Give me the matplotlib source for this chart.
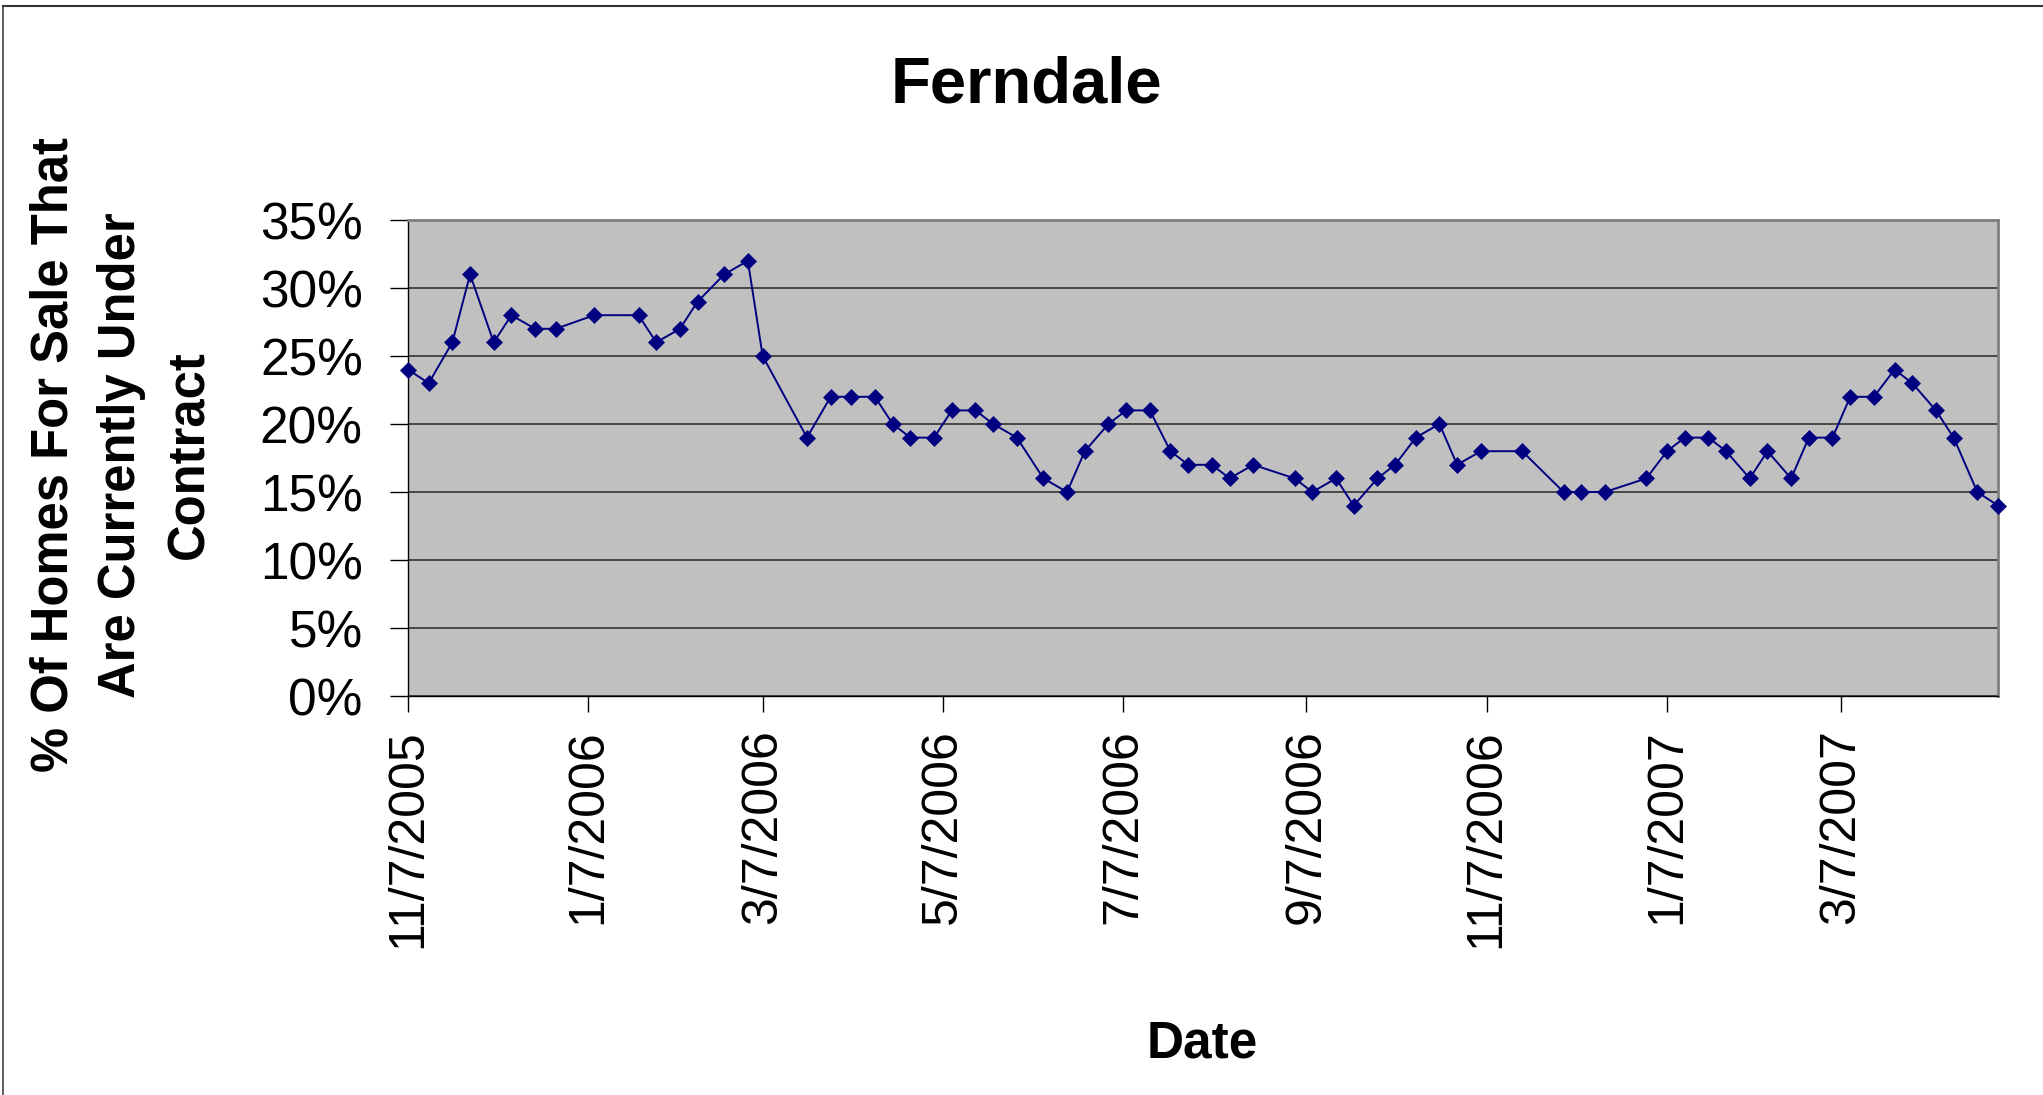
import pandas as pd
import matplotlib
matplotlib.use('Agg')
import matplotlib.pyplot as plt
from matplotlib.lines import Line2D

plt.rcParams['font.family'] = ['Liberation Sans', 'DejaVu Sans']

# data
dates = ['11/7/2005', '11/14/2005', '11/22/2005', '11/28/2005', '12/6/2005', '12/12/2005',
         '12/20/2005', '12/27/2005', '1/9/2006', '1/24/2006', '1/30/2006', '2/7/2006',
         '2/13/2006', '2/22/2006', '3/2/2006', '3/7/2006', '3/22/2006', '3/30/2006',
         '4/6/2006', '4/14/2006', '4/20/2006', '4/26/2006', '5/4/2006', '5/10/2006',
         '5/18/2006', '5/24/2006', '6/1/2006', '6/10/2006', '6/18/2006', '6/24/2006',
         '7/2/2006', '7/8/2006', '7/16/2006', '7/23/2006', '7/29/2006', '8/6/2006',
         '8/12/2006', '8/20/2006', '9/3/2006', '9/9/2006', '9/17/2006', '9/23/2006',
         '10/1/2006', '10/7/2006', '10/14/2006', '10/22/2006', '10/28/2006', '11/5/2006',
         '11/19/2006', '12/3/2006', '12/9/2006', '12/17/2006', '12/31/2006', '1/7/2007',
         '1/13/2007', '1/21/2007', '1/27/2007', '2/4/2007', '2/10/2007', '2/18/2007',
         '2/24/2007', '3/4/2007', '3/10/2007', '3/18/2007', '3/25/2007', '3/31/2007',
         '4/8/2007', '4/14/2007', '4/22/2007', '4/29/2007']
pct_under_contract = [24, 23, 26, 31, 26, 28, 27, 27, 28, 28,
                      26, 27, 29, 31, 32, 25, 19, 22, 22, 22,
                      20, 19, 19, 21, 21, 20, 19, 16, 15, 18,
                      20, 21, 21, 18, 17, 17, 16, 17, 16, 15,
                      16, 14, 16, 17, 19, 20, 17, 18, 18, 15,
                      15, 15, 16, 18, 19, 19, 18, 16, 18, 16,
                      19, 19, 22, 22, 24, 23, 21, 19, 15, 14]
x_tick_labels = ['11/7/2005', '1/7/2006', '3/7/2006', '5/7/2006', '7/7/2006',
                 '9/7/2006', '11/7/2006', '1/7/2007', '3/7/2007']
y_ticks = [0, 5, 10, 15, 20, 25, 30, 35]
y_tick_labels = ['0%', '5%', '10%', '15%', '20%', '25%', '30%', '35%']

W, H = 2043, 1095
fig = plt.figure(figsize=(W / 100, H / 100), dpi=100)
ax = fig.add_axes([408 / W, 1 - 696 / H, (1998 - 408) / W, (696 - 220) / H])
ax.set_facecolor('#c0c0c0')

x = pd.to_datetime(dates, format='%m/%d/%Y')
ax.plot(x, pct_under_contract, color='#000080', lw=1.4, marker='D', markersize=8.5,
        markeredgewidth=0.5, clip_on=False, zorder=3)

ax.set_xlim(x[0], x[-1])
ax.set_ylim(0, 35)

xt = pd.to_datetime(x_tick_labels, format='%m/%d/%Y')
ax.set_xticks(xt)
ax.set_xticklabels(x_tick_labels, rotation=90, fontsize=36)
ax.set_yticks(y_ticks)
ax.set_yticklabels(y_tick_labels, fontsize=37)
ax.tick_params(axis='x', length=11.5, width=1, pad=12.5, direction='out')
ax.tick_params(axis='y', length=13, width=1, pad=19.5, direction='out')

ax.grid(axis='y', color='#333333', lw=1.2)
ax.set_axisbelow(True)
for s in ['top', 'right']:
    ax.spines[s].set_color('#808080')
    ax.spines[s].set_linewidth(2)
for s in ['left', 'bottom']:
    ax.spines[s].set_color('black')
    ax.spines[s].set_linewidth(1)

fig.text(1026.5 / W, 1 - 102.7 / H, 'Ferndale', fontsize=47, fontweight='bold',
         ha='center', va='baseline')
fig.text(1202.5 / W, 1 - 1058 / H, 'Date', fontsize=37, fontweight='bold',
         ha='center', va='baseline')
fig.text(122 / W, 1 - 455 / H,
         '% Of Homes For Sale That\nAre Currently Under\nContract',
         fontsize=36.5, fontweight='bold', rotation=90, ha='center', va='center',
         multialignment='center', linespacing=1.5)

# outer chart border (top and left edges visible)
fig.add_artist(Line2D([3 / W, 1], [1 - 5.5 / H, 1 - 5.5 / H], transform=fig.transFigure,
                      color='#333333', lw=1.5))
fig.add_artist(Line2D([3 / W, 3 / W], [0, 1 - 5.5 / H], transform=fig.transFigure,
                      color='#333333', lw=1.1))

fig.savefig('out.png', dpi=100)
